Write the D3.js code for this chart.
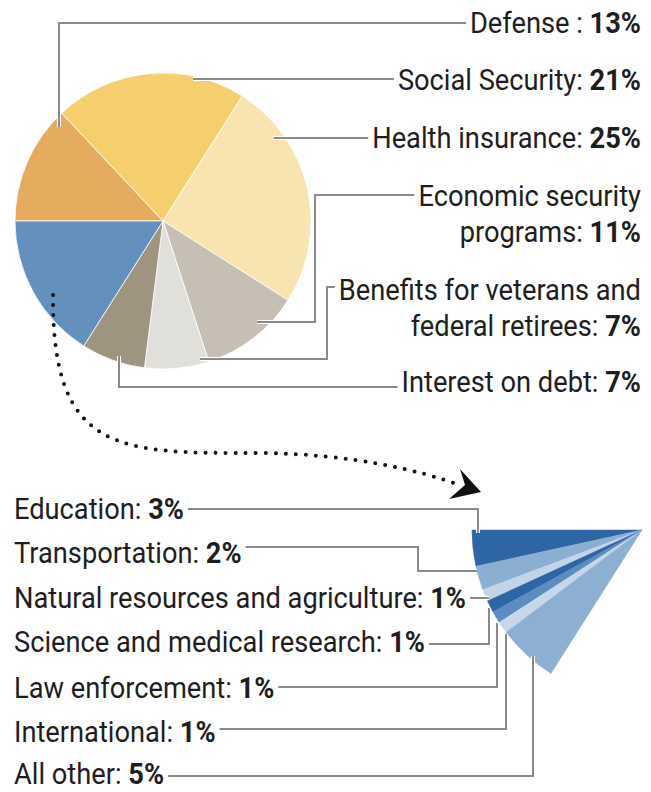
<!DOCTYPE html>
<html>
<head>
<meta charset="utf-8">
<script src="https://cdn.jsdelivr.net/npm/d3@7/dist/d3.min.js"></script>
<style>
  html, body { margin: 0; padding: 0; background: #fff; }
  svg { display: block; }
  text { font-family: Roboto, "Noto Sans", sans-serif; fill: #1e1e1e; }
</style>
</head>
<body>
<svg id="chart" width="651" height="792"></svg>
<script>
// ---------- DATA ----------
const mainCategories = ["Defense", "Social Security", "Health insurance", "Economic security programs",
  "Benefits for veterans and federal retirees", "Interest on debt", "Other"];
const mainValues = [13, 21, 25, 11, 7, 7, 16];
const mainColors = ["#E5AC60", "#F5CF6E", "#F8E4B0", "#C6C0B4", "#E1DFD9", "#9F9480", "#6390BD"];
// label text lines (the value is appended in bold to the last line)
const mainLabelLines = [["Defense :"], ["Social Security:"], ["Health insurance:"],
  ["Economic security", "programs:"], ["Benefits for veterans and", "federal retirees:"], ["Interest on debt:"]];

const subCategories = ["Education", "Transportation", "Natural resources and agriculture",
  "Science and medical research", "Law enforcement", "International", "All other"];
const subValues = [3, 2, 1, 1, 1, 1, 5];
const subColors = ["#2E65A5", "#8CAED1", "#C3D4E8", "#2E65A5", "#5C8CC0", "#C7D7EA", "#8DAFD2"];

// ---------- LAYOUT ----------
const W = 651, H = 792;
const pieC = [163, 221], pieR = 148;
const fanC = [642, 530], fanR = 170;
const fontSize = 29, sx = 0.94, lineH = 36, gap = 4;
const topRight = 641, bottomLeft = 14;
const topBaselines = [33, 90, 148, 206, 300, 392];
// leader paths for top labels: points from the slice to the text row (last y = row)
const topLeaders = [
  [[59, 127], [59, 23]],
  [[193, 79]],
  [[274, 138]],
  [[257, 322], [315, 322], [315, 195]],
  [[200, 359], [327, 359], [327, 287]],
  [[119, 356], [119, 387]]
];
const bottomBaselines = [519, 563, 608, 652, 698, 742, 784];
const bottomLeaderY = [509, 547, 598, 644, 687, 729, 776];
const bottomLeaders = [
  [[478, 509], [478, 533]],
  [[418, 547], [418, 571], [477, 571]],
  [[489, 598]],
  [[489, 644], [489, 608]],
  [[497, 687], [497, 623]],
  [[506, 729], [506, 634]],
  [[533, 776], [533, 656]]
];
const leaderColor = "#8a8a8a";

const svg = d3.select("#chart");

// ---------- MAIN PIE ----------
const pie = d3.pie().sort(null).value(d => d)
  .startAngle(-Math.PI / 2).endAngle(3 * Math.PI / 2);
const mainArcs = pie(mainValues);
const arc = d3.arc().innerRadius(0).outerRadius(pieR);

const gPie = svg.append("g").attr("transform", `translate(${pieC[0]},${pieC[1]})`);
gPie.selectAll("path").data(mainArcs).join("path")
  .attr("d", arc)
  .attr("fill", (d, i) => mainColors[i])
  .attr("stroke", "#ffffff")
  .attr("stroke-width", 0.8);

// ---------- FAN (exploded "Other" slice) ----------
const other = mainArcs[mainArcs.length - 1];
const fanPie = d3.pie().sort(null).value(d => d)
  .startAngle(other.endAngle).endAngle(other.startAngle);
const fanArc = d3.arc().innerRadius(0).outerRadius(fanR);
const gFan = svg.append("g").attr("transform", `translate(${fanC[0]},${fanC[1]})`);
gFan.selectAll("path").data(fanPie(subValues)).join("path")
  .attr("d", fanArc)
  .attr("fill", (d, i) => subColors[i])
  .attr("stroke", (d, i) => subColors[i])
  .attr("stroke-width", 0.5);

// ---------- TEXT ----------
const gText = svg.append("g").style("font-size", fontSize + "px");
function addLine(x, y, anchor, regular, bold) {
  const t = gText.append("text")
    .attr("transform", `translate(${x},${y}) scale(${sx},1)`)
    .attr("text-anchor", anchor);
  t.append("tspan").attr("font-weight", 400).text(regular + (bold ? " " : ""));
  if (bold) t.append("tspan").attr("font-weight", 700).text(bold);
  return t.node().getBBox().width * sx;
}

const lineGen = d3.line();
function drawLeader(pts) {
  const g = svg.append("g");
  g.append("path").attr("d", lineGen(pts)).attr("fill", "none")
    .attr("stroke", "#fff").attr("stroke-width", 4).attr("stroke-linejoin", "miter");
  g.append("path").attr("d", lineGen(pts)).attr("fill", "none")
    .attr("stroke", leaderColor).attr("stroke-width", 2).attr("stroke-linejoin", "miter");
}

mainLabelLines.forEach((lines, i) => {
  let firstW = 0;
  lines.forEach((ln, j) => {
    const last = j === lines.length - 1;
    const w = addLine(topRight, topBaselines[i] + j * lineH, "end", ln, last ? mainValues[i] + "%" : null);
    if (j === 0) firstW = w;
  });
  const pts = topLeaders[i].slice();
  const rowY = pts[pts.length - 1][1];
  pts.push([topRight - firstW - gap, rowY]);
  drawLeader(pts);
});

subCategories.forEach((name, i) => {
  const w = addLine(bottomLeft, bottomBaselines[i], "start", name + ":", subValues[i] + "%");
  const pts = [[bottomLeft + w + gap, bottomLeaderY[i]]].concat(bottomLeaders[i]);
  drawLeader(pts);
});

// ---------- DOTTED ARROW ----------
const arrowPath = "M53,295 C52,455 120,453 260,453 C350,454 420,470 462,486";
svg.append("path").attr("d", arrowPath).attr("fill", "none")
  .attr("stroke", "#111").attr("stroke-width", 4)
  .attr("stroke-linecap", "round").attr("stroke-dasharray", "0 10");
svg.append("path")
  .attr("d", "M481,492 L460,469 L465,485 L449,499 Z")
  .attr("fill", "#111");
</script>
</body>
</html>
